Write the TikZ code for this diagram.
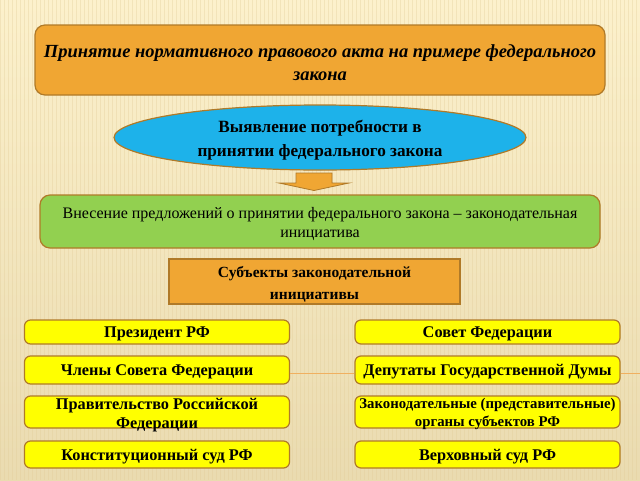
\documentclass[tikz,border=0pt]{standalone}
\usepackage{fontspec}
\setmainfont{Liberation Serif}
\usetikzlibrary{shapes.geometric}
\definecolor{bgtop}{HTML}{FCF1CC}
\definecolor{bgbot}{HTML}{EADBB0}
\definecolor{stripe}{HTML}{E2CC98}
\definecolor{orfill}{HTML}{F0A633}
\definecolor{orline}{HTML}{B07A28}
\definecolor{cyanfill}{HTML}{1DB2EA}
\definecolor{grfill}{HTML}{92D050}
\definecolor{yefill}{HTML}{FFFF00}
\definecolor{linkc}{HTML}{F0B060}
\tikzset{
  box/.style={draw=orline, line width=1.2pt, rounded corners=6pt, inner sep=0pt},
  txt/.style={align=center, inner sep=0pt},
  titlebox/.style={box, fill=orfill, rounded corners=10pt, minimum width=570pt, minimum height=70pt},
  titletext/.style={txt, font=\bfseries\itshape\fontsize{18.5}{23}\selectfont},
  oval/.style={ellipse, draw=orline, line width=1.2pt, fill=cyanfill, minimum width=412pt, minimum height=65pt, inner sep=0pt},
  ovaltext/.style={txt, font=\bfseries\fontsize{17.2}{24}\selectfont},
  greenbox/.style={box, fill=grfill, rounded corners=10pt, minimum width=560pt, minimum height=53pt},
  greentext/.style={txt, font=\fontsize{16}{19.5}\selectfont},
  subjbox/.style={box, fill=orfill, rounded corners=0pt, minimum width=291pt, minimum height=45pt},
  subjtext/.style={txt, font=\bfseries\fontsize{15.5}{22}\selectfont},
  ybox/.style={box, fill=yefill, minimum width=265pt},
  ytext/.style={txt, font=\bfseries\fontsize{16.3}{19}\selectfont},
  ysmall/.style={txt, font=\bfseries\fontsize{14.8}{18}\selectfont},
  link/.style={draw=linkc, line width=0.6pt},
  downarrow/.style={fill=orfill, draw=orline, line width=0.8pt}
}
\begin{document}
\begin{tikzpicture}[x=1pt,y=-1pt]
\useasboundingbox (0,0) rectangle (640,480);
\shade[top color=bgtop, bottom color=bgbot] (0,0) rectangle (640,480);
\foreach \i in {0,4,...,640} {\draw[stripe, line width=0.6pt, opacity=0.35] (\i,0) -- (\i,480);}
\node[titlebox] (title) at (320,60) {};
\node[titletext] (titlet) at ([yshift=-3pt]title.center) {Принятие нормативного правового акта на примере федерального\\закона};
\node[oval] (need) at (320,137.5) {};
\node[ovaltext] (needt) at ([yshift=-3pt]need.center) {Выявление потребности в\\принятии федерального закона};
\draw[downarrow] (296,173) -- (332,173) -- (332,183) -- (349,183) -- (314,190.5) -- (279,183) -- (296,183) -- cycle;
\node[greenbox] (init) at (320,221.5) {};
\node[greentext] (initt) at ([yshift=-2.5pt]init.center) {Внесение предложений о принятии федерального закона – законодательная\\инициатива};
\node[subjbox] (subj) at (314.5,281.5) {};
\node[subjtext] (subjt) at ([yshift=-3pt]subj.center) {Субъекты законодательной\\инициативы};
\node[ybox, minimum height=24pt] (l1) at (157,332) {};
\node[ybox, minimum height=28pt] (l2) at (157,370) {};
\node[ybox, minimum height=32pt] (l3) at (157,412) {};
\node[ybox, minimum height=27pt] (l4) at (157,454.5) {};
\node[ybox, minimum height=24pt] (r1) at (487.5,332) {};
\node[ybox, minimum height=28pt] (r2) at (487.5,370) {};
\node[ybox, minimum height=32pt] (r3) at (487.5,412) {};
\node[ybox, minimum height=27pt] (r4) at (487.5,454.5) {};
\node[ytext] (l1t) at ([yshift=-2pt]l1.center) {Президент РФ};
\node[ytext] (l2t) at ([yshift=-2pt]l2.center) {Члены Совета Федерации};
\node[ytext] (l3t) at ([yshift=-3pt]l3.center) {Правительство Российской\\Федерации};
\node[ytext] (l4t) at ([yshift=-2pt]l4.center) {Конституционный суд РФ};
\node[ytext] (r1t) at ([yshift=-2pt]r1.center) {Совет Федерации};
\node[ytext] (r2t) at ([yshift=-2pt]r2.center) {Депутаты Государственной Думы};
\node[ysmall] (r3t) at ([yshift=-2pt]r3.center) {Законодательные (представительные)\\органы субъектов РФ};
\node[ytext] (r4t) at ([yshift=-2pt]r4.center) {Верховный суд РФ};
\coordinate (edge) at (640,373);
\draw[link] ([yshift=-3pt]l2.east) -- ([yshift=-3pt]r2.west);
\draw[link] ([yshift=-3pt]r2.east) -- (edge);
\end{tikzpicture}
\end{document}
